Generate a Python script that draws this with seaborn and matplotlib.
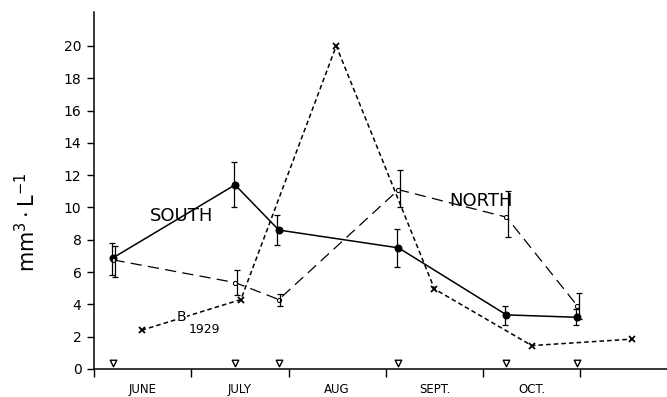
import matplotlib
matplotlib.use("Agg")
import matplotlib.pyplot as plt
import numpy as np
import pandas as pd
import seaborn as sns

# x in months from 1 June (0 = June 1, 1 = July 1, ...)
months = ["JUNE", "JULY", "AUG", "SEPT.", "OCT."]
sample_x = [0.20, 1.45, 1.90, 3.13, 4.24, 4.97]

south_y = [6.9, 11.4, 8.6, 7.5, 3.35, 3.2]
south_lo = [5.8, 10.0, 7.7, 6.3, 2.7, 2.7]
south_hi = [7.8, 12.8, 9.55, 8.65, 3.9, 3.7]

north_y = [6.75, 5.35, 4.3, 11.1, 9.4, 3.9]
north_lo = [5.7, 4.6, 3.9, 10.0, 8.2, 3.1]
north_hi = [7.6, 6.1, 4.65, 12.3, 11.0, 4.7]

b1929_x = [0.49, 1.51, 2.49, 3.50, 4.50, 5.53]
b1929_y = [2.4, 4.3, 20.0, 4.95, 1.45, 1.85]

yticks = list(range(0, 21, 2))

sns.set_style("ticks")
plt.rcParams["font.family"] = ["DejaVu Sans"]
plt.rcParams["text.color"] = "black"
plt.rcParams["xtick.color"] = "black"
plt.rcParams["ytick.color"] = "black"
plt.rcParams["axes.labelcolor"] = "black"
plt.rcParams["axes.edgecolor"] = "black"

fig = plt.figure(figsize=(6.67, 3.97), dpi=100)
ax = fig.add_axes([94 / 667, 28 / 397, 573 / 667, 357 / 397])

south = pd.DataFrame({"x": sample_x, "y": south_y})
north = pd.DataFrame({"x": sample_x, "y": north_y})
b1929 = pd.DataFrame({"x": b1929_x, "y": b1929_y})

sns.lineplot(data=south, x="x", y="y", ax=ax, color="black", lw=1.1,
             marker="o", markersize=5, markerfacecolor="black",
             markeredgecolor="black", sort=False)
sns.lineplot(data=north, x="x", y="y", ax=ax, color="black", lw=0.9,
             dashes=(9, 5), marker="o", markersize=3,
             markerfacecolor="white", markeredgecolor="black", sort=False)
sns.lineplot(data=b1929, x="x", y="y", ax=ax, color="black", lw=1.1,
             dashes=(3, 2), marker="x", markersize=4, markeredgewidth=1.3,
             markeredgecolor="black", sort=False)

sx = np.array(sample_x)
for xs, y, lo, hi in [(sx - 0.015, south_y, south_lo, south_hi),
                      (sx + 0.015, north_y, north_lo, north_hi)]:
    y = np.array(y)
    err = [y - np.array(lo), np.array(hi) - y]
    ax.errorbar(xs, y, yerr=err, fmt="none", ecolor="black",
                elinewidth=0.9, capsize=2.5, capthick=0.9)

# sampling-date markers on the axis
ax.scatter(sample_x, [0.37] * len(sample_x), marker="v", s=22,
           facecolor="white", edgecolor="black", linewidth=1.0,
           clip_on=False, zorder=5)

ax.text(0.90, 9.5, "SOUTH", fontsize=13, ha="center", va="center")
ax.text(3.98, 10.4, "NORTH", fontsize=13, ha="center", va="center")
ax.text(0.90, 3.2, "B", fontsize=10, ha="center", va="center",
        bbox=dict(facecolor="white", edgecolor="none", pad=0.5))
ax.text(1.14, 2.45, "1929", fontsize=9, ha="center", va="center")

ax.set_xlim(0, 5.89)
ax.set_ylim(0, 22.1)
ax.set_yticks(yticks)
ax.set_yticklabels([str(t) for t in yticks], fontsize=10)
ax.set_xticks([0, 1, 2, 3, 4, 5])
ax.set_xticklabels([])
ax.set_xticks(np.arange(len(months)) + 0.5, minor=True)
ax.set_xticklabels(months, minor=True, fontsize=8.5)
ax.tick_params(axis="x", which="minor", length=0, pad=10)
ax.tick_params(axis="x", which="major", length=6, width=1, direction="out")
ax.tick_params(axis="y", length=5, width=1, direction="out", pad=4)

ax.set_xlabel("")
ax.set_ylabel(r"mm$^3\cdot$L$^{-1}$", fontsize=15)
ax.yaxis.set_label_coords(-0.095, 0.41)

sns.despine(ax=ax)
for side in ["left", "bottom"]:
    ax.spines[side].set_linewidth(1.1)

fig.savefig("out.png", dpi=100)
plt.close(fig)
